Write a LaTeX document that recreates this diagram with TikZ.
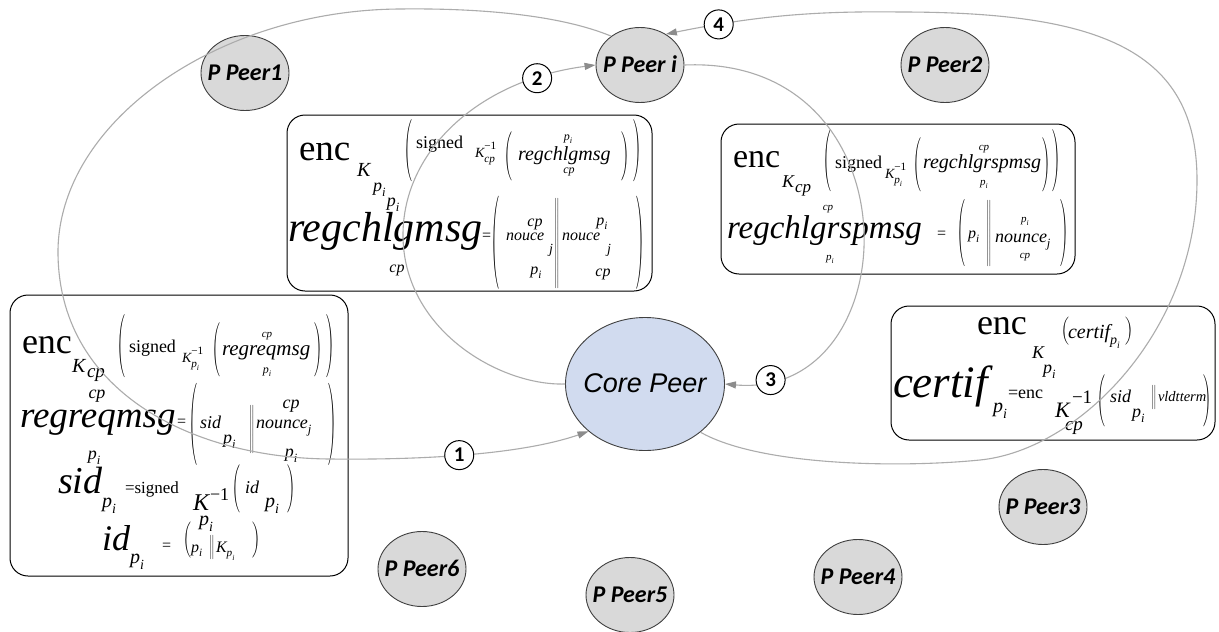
\documentclass[tikz,border=0pt]{standalone}
\usepackage{fontspec}
\usepackage{graphicx}
\setmainfont{Liberation Serif}
\newfontfamily\peerfont{Carlito}
\newfontfamily\corefont{Liberation Sans}
\usetikzlibrary{shapes.geometric,arrows.meta}

\definecolor{edgegray}{RGB}{172,172,172}
\definecolor{tipgray}{RGB}{140,140,140}
\definecolor{peerfill}{RGB}{217,217,217}
\definecolor{peerline}{RGB}{64,64,64}
\definecolor{corefill}{RGB}{209,219,239}

% font size in points, leading equal to size
\newcommand{\fs}[1]{\fontsize{#1}{#1}\selectfont}
% zero-size centred label for shaped nodes
\newcommand{\ctr}[1]{\makebox[0pt]{\raisebox{-0.32em}[0pt][0pt]{#1}}}
% base with a lowered index
\newcommand{\sbi}[2]{#1\raisebox{-0.3em}{\scalebox{0.7}{#2}}}
% inverse key: K with -1 above and an index below
\newcommand{\kinv}[1]{K\rlap{\raisebox{0.55em}{\scalebox{0.8}{\upshape −1}}}\raisebox{-0.4em}{\scalebox{0.8}{#1}}}
% thin curved parentheses stretched to a given total height
\newcommand{\lpar}[1]{\resizebox*{\width}{#1pt}{$\Bigg($}}
\newcommand{\rpar}[1]{\resizebox*{\width}{#1pt}{$\Bigg)$}}
% thin double bar of a given total height
\newcommand{\strutv}[1]{\vcenter{\hbox{\vrule height #1pt width 0pt}}}
\newcommand{\dbar}[1]{$\delimitershortfall=0pt\delimiterfactor=1000\nulldelimiterspace=0pt\left\|\strutv{#1}\right.$}

\tikzset{
  tk/.style={inner sep=0pt, outer sep=0pt, anchor=base west},
  tc/.style={inner sep=0pt, outer sep=0pt, anchor=base},
  gl/.style={inner sep=0pt, outer sep=0pt, anchor=north west, font=\fs{10}},
  frame/.style={draw=black, line width=1pt, rounded corners=18pt, inner sep=0pt},
  peer/.style={ellipse, draw=peerline, line width=0.9pt, fill=peerfill,
    minimum width=88pt, minimum height=75pt, inner sep=0pt,
    font=\peerfont\bfseries\itshape\fs{24}},
  corenode/.style={ellipse, draw=peerline, line width=0.9pt, fill=corefill,
    minimum width=159pt, minimum height=133pt, inner sep=0pt,
    font=\corefont\itshape\fs{27}},
  num/.style={circle, draw=black, fill=white, line width=1pt,
    minimum size=29pt, inner sep=0pt, font=\peerfont\bfseries\fs{21}},
  edge/.style={draw=edgegray, line width=1.1pt,
    -{Triangle[length=11pt,width=7pt,color=tipgray]}},
}

\begin{document}
\begin{tikzpicture}[x=1pt,y=-1pt]
\fill[white] (0,0) rectangle (1219,632);
\useasboundingbox (0,0) rectangle (1219,632);

% ---------- message boxes ----------
\node[frame, minimum width=365pt, minimum height=176pt] (boxA) at (469.5,203) {};
\node[frame, minimum width=354pt, minimum height=150pt] (boxB) at (898,199) {};
\node[frame, minimum width=338pt, minimum height=281pt] (boxC) at (179,435.5) {};
\node[frame, minimum width=324pt, minimum height=134pt] (boxD) at (1053,373) {};

% box A: challenge message
\node[tk,font=\fs{37}] (a1) at (299,160) {enc};
\node[tk,font=\fs{20}\itshape] (a2) at (357,176) {K};
\node[tk,font=\fs{18}\itshape] (a3) at (373,191) {\sbi{p}{i}};
\node[gl] (a4) at (404,120) {\lpar{62}};
\node[tk,font=\fs{18}] (a5) at (416,148) {signed};
\node[tk,font=\fs{14}\itshape] (a6) at (475,157) {\kinv{cp}};
\node[gl] (a7) at (504,132) {\lpar{49}};
\node[tc,font=\fs{12}\itshape] (a8) at (568,140) {\sbi{p}{i}};
\node[tk,font=\fs{20}\itshape] (a9) at (518,160) {regchlgmsg};
\node[tc,font=\fs{12}\itshape] (a10) at (569,173) {cp};
\node[gl] (a11) at (621,132) {\rpar{49}};
\node[gl] (a12) at (633,120) {\rpar{62}};
\node[tc,font=\fs{18}\itshape] (a13) at (393,206) {\sbi{p}{i}};
\node[tk,font=\fs{42}\itshape] (a14) at (288,241) {regchlgmsg};
\node[tc,font=\fs{16}\itshape] (a15) at (397,272) {cp};
\node[tk,font=\fs{16}] (a16) at (482,240) {=};
\node[gl] (a17) at (491,196) {\lpar{93}};
\node[tc,font=\fs{16}\itshape] (a18) at (535,226) {cp};
\node[tk,font=\fs{16}\itshape] (a19) at (506,240) {nouce};
\node[tk,font=\fs{14}\itshape] (a20) at (549,253) {j};
\node[tc,font=\fs{16}\itshape] (a21) at (536,274) {\sbi{p}{i}};
\node[gl] (a22) at (554,198) {\dbar{90}};
\node[tc,font=\fs{16}\itshape] (a23) at (602,225) {\sbi{p}{i}};
\node[tk,font=\fs{16}\itshape] (a24) at (562,240) {nouce};
\node[tk,font=\fs{14}\itshape] (a25) at (607,253) {j};
\node[tc,font=\fs{16}\itshape] (a26) at (603,276) {cp};
\node[gl] (a27) at (636,196) {\rpar{93}};

% box B: challenge response
\node[tk,font=\fs{34}] (b1) at (733,167) {enc};
\node[tk,font=\fs{18}\itshape] (b2) at (782,187) {K};
\node[tk,font=\fs{17}\itshape] (b3) at (795,192) {cp};
\node[gl] (b4) at (823,130) {\lpar{62}};
\node[tk,font=\fs{18}] (b5) at (835,168) {signed};
\node[tk,font=\fs{14}\itshape] (b6) at (885,178) {\kinv{\sbi{p}{i}}};
\node[gl] (b7) at (913,138) {\lpar{54}};
\node[tc,font=\fs{11}\itshape] (b8) at (984,150) {cp};
\node[tk,font=\fs{20}\itshape] (b9) at (923,168) {regchlgrspmsg};
\node[tc,font=\fs{11}\itshape] (b10) at (984,185) {\sbi{p}{i}};
\node[gl] (b11) at (1042,138) {\rpar{54}};
\node[gl] (b12) at (1052,130) {\rpar{62}};
\node[tc,font=\fs{11}\itshape] (b13) at (828,210) {cp};
\node[tk,font=\fs{33}\itshape] (b14) at (727,238) {regchlgrspmsg};
\node[tc,font=\fs{11}\itshape] (b15) at (830,260) {\sbi{p}{i}};
\node[tk,font=\fs{16}] (b16) at (937,238) {=};
\node[gl] (b17) at (957,200) {\lpar{67}};
\node[tk,font=\fs{16}\itshape] (b18) at (968,238) {\sbi{p}{i}};
\node[gl] (b19) at (986,200) {\dbar{65}};
\node[tc,font=\fs{11}\itshape] (b20) at (1025,222) {\sbi{p}{i}};
\node[tk,font=\fs{18}\itshape] (b21) at (995,242) {\sbi{nounce}{j}};
\node[tc,font=\fs{11}\itshape] (b22) at (1025,258) {cp};
\node[gl] (b23) at (1060,200) {\rpar{67}};

% box C: registration request
\node[tk,font=\fs{36}] (c1) at (22,353) {enc};
\node[tk,font=\fs{20}\itshape] (c2) at (72,372) {K};
\node[tk,font=\fs{19}\itshape] (c3) at (87,377) {cp};
\node[gl] (c4) at (117,315) {\lpar{63}};
\node[tk,font=\fs{18}] (c5) at (129,352) {signed};
\node[tk,font=\fs{14}\itshape] (c6) at (182,362) {\kinv{\sbi{p}{i}}};
\node[gl] (c7) at (212,323) {\lpar{54}};
\node[tc,font=\fs{11}\itshape] (c8) at (267,337) {cp};
\node[tk,font=\fs{21}\itshape] (c9) at (222,355) {regreqmsg};
\node[tc,font=\fs{12}\itshape] (c10) at (267,373) {\sbi{p}{i}};
\node[gl] (c11) at (314,323) {\rpar{54}};
\node[gl] (c12) at (326,315) {\rpar{63}};
\node[tc,font=\fs{18}\itshape] (c13) at (97,398) {cp};
\node[tk,font=\fs{37}\itshape] (c14) at (20,427) {regreqmsg};
\node[tc,font=\fs{18}\itshape] (c15) at (94,459) {\sbi{p}{i}};
\node[tk,font=\fs{16}] (c16) at (177,426) {=};
\node[gl] (c17) at (189,383) {\lpar{82}};
\node[tk,font=\fs{18}\itshape] (c18) at (200,428) {sid};
\node[tk,font=\fs{18}\itshape] (c19) at (223,443) {\sbi{p}{i}};
\node[gl] (c20) at (249,405) {\dbar{43}};
\node[tc,font=\fs{18}\itshape] (c21) at (291,408) {cp};
\node[tk,font=\fs{18}\itshape] (c22) at (256,428) {\sbi{nounce}{j}};
\node[tc,font=\fs{18}\itshape] (c23) at (291,457) {\sbi{p}{i}};
\node[gl] (c24) at (328,383) {\rpar{82}};
\node[tk,font=\fs{38}\itshape] (c25) at (58,493) {sid};
\node[tk,font=\fs{20}\itshape] (c26) at (102,507) {\sbi{p}{i}};
\node[tk,font=\fs{17}] (c27) at (125,493) {=signed};
\node[tk,font=\fs{24}\itshape] (c28) at (193,510) {K};
\node[tk,font=\fs{18}] (c29) at (210,500) {−1};
\node[tk,font=\fs{20}\itshape] (c30) at (199,525) {\sbi{p}{i}};
\node[gl] (c31) at (232,465) {\lpar{48}};
\node[tk,font=\fs{18}\itshape] (c32) at (245,493) {id};
\node[tk,font=\fs{20}\itshape] (c33) at (265,507) {\sbi{p}{i}};
\node[gl] (c34) at (287,465) {\rpar{48}};
\node[tk,font=\fs{36}\itshape] (c35) at (102,550) {id};
\node[tk,font=\fs{20}\itshape] (c36) at (130,563) {\sbi{p}{i}};
\node[tk,font=\fs{16}] (c37) at (162,550) {=};
\node[gl] (c38) at (183,522) {\lpar{36}};
\node[tk,font=\fs{16}\itshape] (c39) at (191,552) {\sbi{p}{i}};
\node[gl] (c40) at (209,535) {\dbar{22}};
\node[tk,font=\fs{16}\itshape] (c41) at (216,552) {\sbi{K}{\sbi{p}{i}}};
\node[gl] (c42) at (252,522) {\rpar{36}};

% box D: certificate
\node[tk,font=\fs{36}] (d1) at (977,334) {enc};
\node[tk,font=\fs{18}\itshape] (d2) at (1032,358) {K};
\node[tk,font=\fs{18}\itshape] (d3) at (1043,373) {\sbi{p}{i}};
\node[gl] (d4) at (1061,317) {\lpar{28}};
\node[tk,font=\fs{20}\itshape] (d5) at (1068,338) {\sbi{certif}{\sbi{p}{i}}};
\node[gl] (d6) at (1125,317) {\rpar{28}};
\node[tk,font=\fs{45}\itshape] (d7) at (893,397) {certif};
\node[tk,font=\fs{20}\itshape] (d8) at (993,412) {\sbi{p}{i}};
\node[tk,font=\fs{18}] (d9) at (1008,398) {=enc};
\node[tk,font=\fs{22}\itshape] (d10) at (1055,417) {K};
\node[tk,font=\fs{19}] (d11) at (1072,403) {−1};
\node[tk,font=\fs{19}\itshape] (d12) at (1065,430) {cp};
\node[gl] (d13) at (1097,375) {\lpar{52}};
\node[tk,font=\fs{18}\itshape] (d14) at (1110,402) {sid};
\node[tk,font=\fs{18}\itshape] (d15) at (1132,417) {\sbi{p}{i}};
\node[gl] (d16) at (1151,385) {\dbar{23}};
\node[tk,font=\fs{14.5}\itshape] (d17) at (1158,401) {vldtterm};
\node[gl] (d18) at (1203,375) {\rpar{52}};

% ---------- peers ----------
\node[peer] (p1) at (245,73) {\ctr{P Peer1}};
\node[peer] (pi) at (640,65) {\ctr{P Peer i}};
\node[peer] (p2) at (945,65) {\ctr{P Peer2}};
\node[peer] (p3) at (1043,507) {\ctr{P Peer3}};
\node[peer] (p4) at (858,577) {\ctr{P Peer4}};
\node[peer] (p5) at (630,595) {\ctr{P Peer5}};
\node[peer] (p6) at (422,569) {\ctr{P Peer6}};
\node[corenode] (core) at (645,384) {\ctr{Core Peer}};

% ---------- message flow ----------
% 1: registration request, around the left side
\draw[edge] (pi.135) .. controls (560,15) and (480,8) .. (400,9)
  .. controls (220,10) and (60,120) .. (58,250)
  .. controls (57,390) and (190,458) .. (330,459)
  .. controls (420,460) and (520,455) .. (core.220)
  node[num,pos=0.47] (n1) {1};
% 2: challenge to the peer
\draw[edge] (core.180) .. controls (500,386) and (403,330) .. (403,235)
  .. controls (403,150) and (480,80) .. (pi.180)
  node[num,pos=0.82] (n2) {2};
% 3: challenge response back to the core
\draw[edge] (pi.0) .. controls (920,55) and (910,400) .. (core.0)
  node[num,pos=0.91] (n3) {3};
% 4: certificate, around the right side
\draw[edge] (core.-41) .. controls (760,466) and (900,468) .. (980,460)
  .. controls (1080,450) and (1197,330) .. (1197,180)
  .. controls (1197,50) and (1100,12) .. (900,12)
  .. controls (820,11) and (760,15) .. (pi.50)
  node[num,pos=0.8] (n4) {4};
\end{tikzpicture}
\end{document}
